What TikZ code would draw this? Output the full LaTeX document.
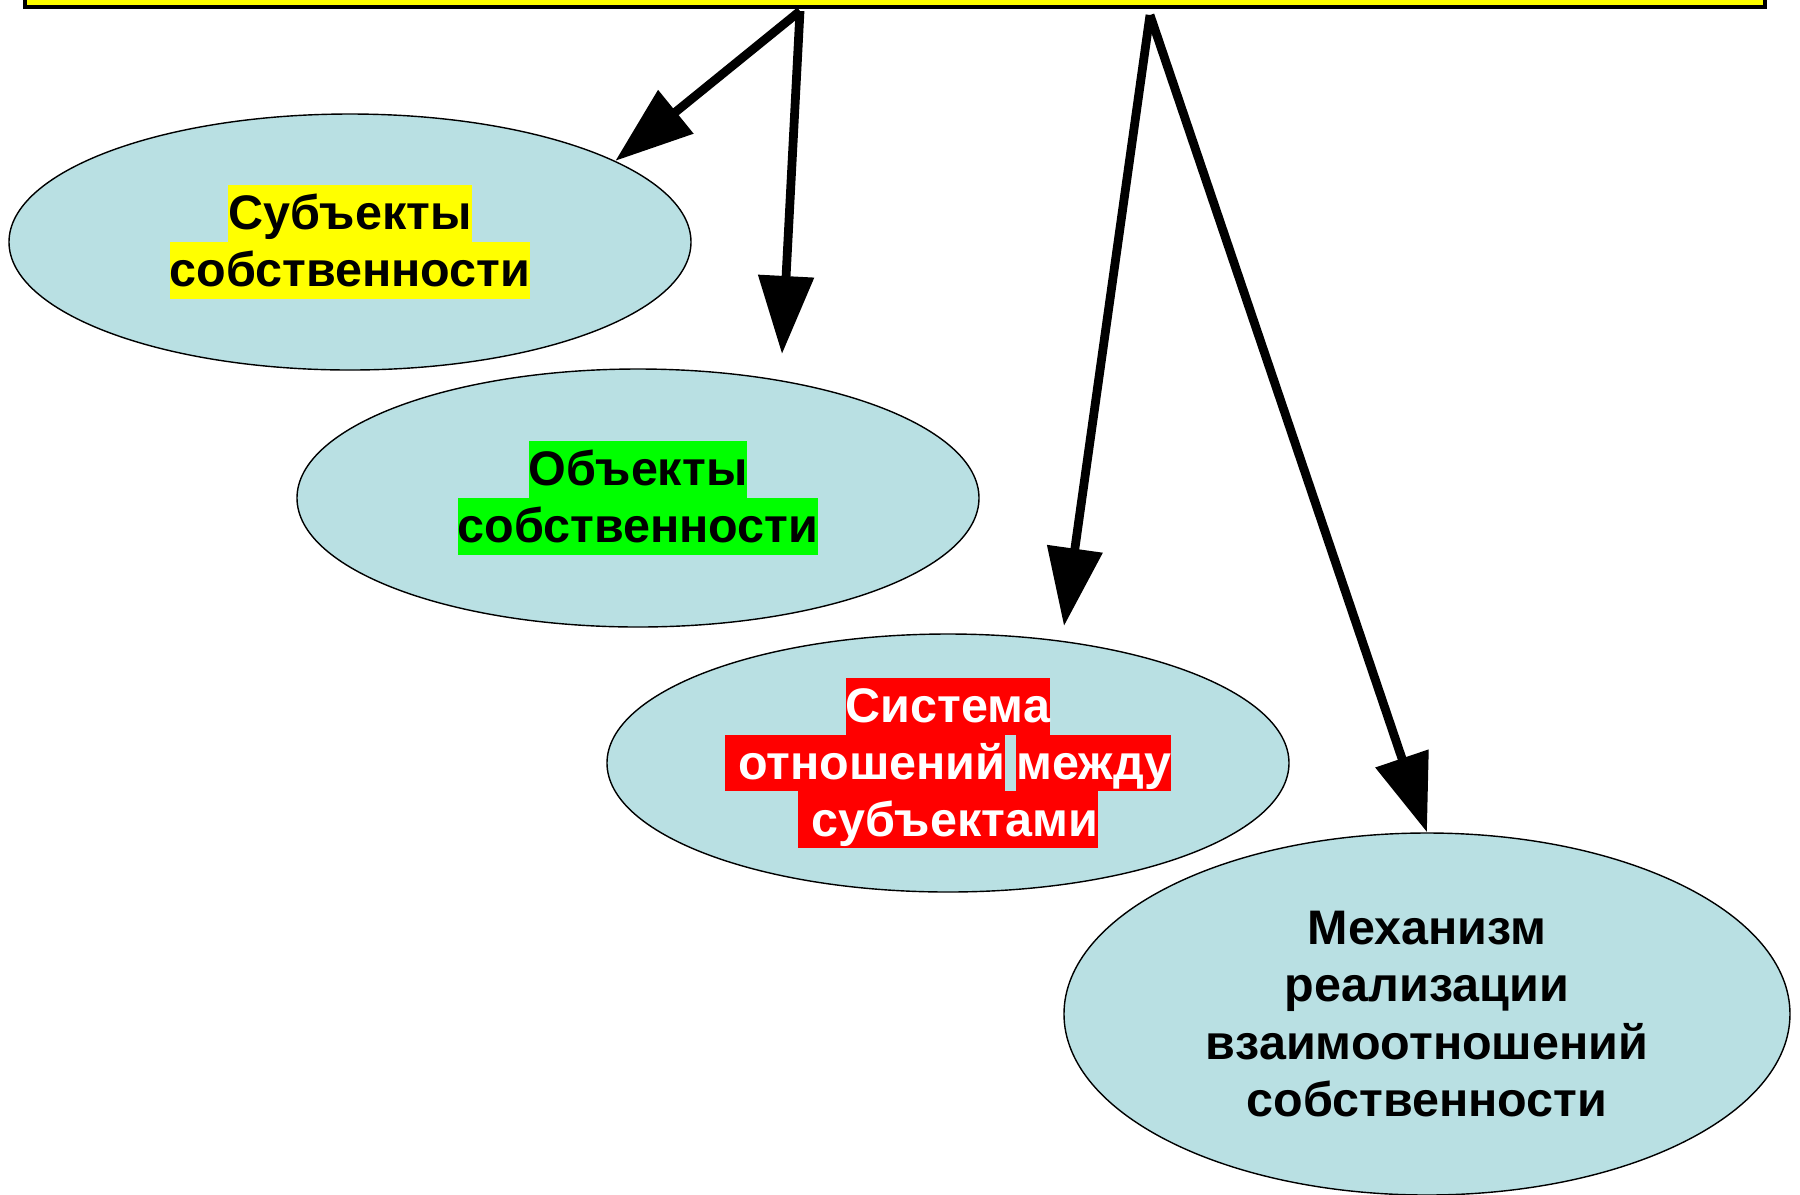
\documentclass[tikz,border=0pt]{standalone}
\usepackage{fontspec}
\setmainfont{Liberation Sans}
\usetikzlibrary{shapes.geometric,arrows.meta}
\definecolor{Bubble}{HTML}{B9E0E3}
\definecolor{BarYellow}{HTML}{FFFF00}
\definecolor{MarkYellow}{HTML}{FFFF00}
\definecolor{MarkGreen}{HTML}{00FF00}
\definecolor{MarkRed}{HTML}{FF0000}
\setlength{\fboxsep}{0pt}
\newcommand{\hilite}[2]{\colorbox{#1}{\rule[-3.5pt]{0pt}{16.2pt}#2}}

\begin{document}
\begin{tikzpicture}[
  bubble/.style={ellipse, draw=black, thin, fill=Bubble, inner sep=0pt, align=center, font=\fontsize{13.8}{16.2}\selectfont\bfseries},
  bar/.style={rectangle, draw=black, line width=1.2pt, fill=BarYellow},
  arrow/.style={-{Triangle[length=0.78cm, width=0.54cm]}, line width=2.5pt, draw=black}
]
\useasboundingbox (0,0) rectangle (18,-11.94);

\node[bar, minimum width=17.4cm, minimum height=1cm] (head) at (8.95,0.43) {};

\node[bubble, minimum width=6.82cm, minimum height=2.56cm] (subj) at (3.5,-2.42) {\hilite{MarkYellow}{Субъекты}\\\hilite{MarkYellow}{собственности}};
\node[bubble, minimum width=6.82cm, minimum height=2.58cm] (obj) at (6.38,-4.98) {\hilite{MarkGreen}{Объекты}\\\hilite{MarkGreen}{собственности}};
\node[bubble, text=white, minimum width=6.82cm, minimum height=2.58cm] (rel) at (9.48,-7.63) {\hilite{MarkRed}{Система}\\\hilite{MarkRed}{\ отношений}\hspace{0.11cm}\hilite{MarkRed}{между}\\\hilite{MarkRed}{\ субъектами}};
\node[bubble, font=\fontsize{13.8}{16.4}\selectfont\bfseries, minimum width=7.26cm, minimum height=3.62cm] (mech) at (14.27,-10.14) {Механизм\\реализации\\взаимоотношений\\собственности};

\coordinate (b1) at (8.0,-0.11);
\coordinate (b2) at (11.5,-0.15);
\coordinate (t2) at (7.82,-3.54);
\coordinate (t3) at (10.64,-6.26);

\draw[arrow] (b1) -- (subj.17);
\draw[arrow] (b1) -- (t2);
\draw[arrow] (b2) -- (t3);
\draw[arrow] (b2) -- (mech.north);
\end{tikzpicture}
\end{document}
